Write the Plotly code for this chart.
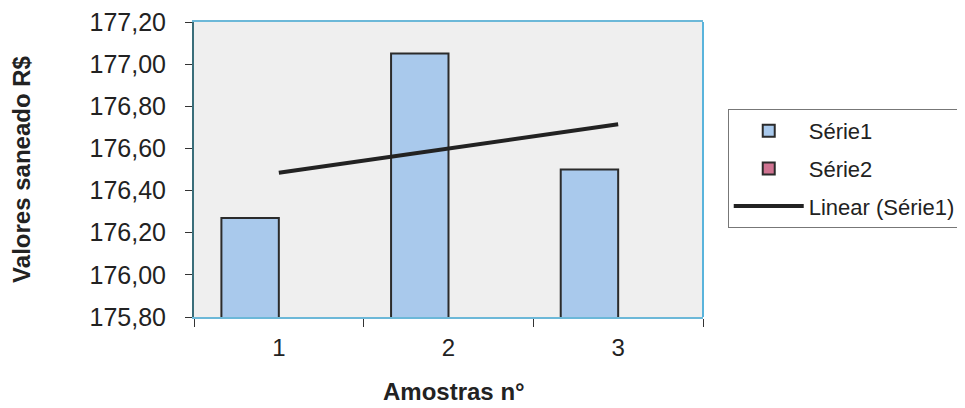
import plotly.graph_objects as go

categories = ["1", "2", "3"]
serie1 = [176.27, 177.05, 176.50]
serie2 = [None, None, None]
trend_linear = [176.485, 176.60, 176.715]
y_ticks = [175.8, 176.0, 176.2, 176.4, 176.6, 176.8, 177.0, 177.2]

font_family = "Liberation Sans, Arial, sans-serif"
text_col = "#222222"

fig = go.Figure()
fig.add_trace(go.Bar(
    x=categories, y=serie1, name="Série1", legendgroup="a",
    marker=dict(color="#a9c9ec", line=dict(color="#2b2b2b", width=2)),
))
fig.add_trace(go.Bar(
    x=categories, y=serie2, name="Série2", legendgroup="b",
    marker=dict(color="#cf7391", line=dict(color="#2b2b2b", width=2)),
))
fig.add_trace(go.Scatter(
    x=categories, y=trend_linear, name="Linear (Série1)", legendgroup="c",
    mode="lines", line=dict(color="#222222", width=4),
))

fig.update_layout(
    width=965, height=400,
    margin=dict(l=186, r=265, t=14, b=91),
    paper_bgcolor="white",
    plot_bgcolor="#efefef",
    separators=",.",
    barmode="group",
    bargap=0.323,
    bargroupgap=0,
    font=dict(family=font_family, color=text_col, size=22),
    legend=dict(
        x=1.0486, xanchor="left", y=0.705, yanchor="top",
        bordercolor="#777777", borderwidth=1, bgcolor="white",
        font=dict(size=22, family=font_family, color=text_col),
        traceorder="grouped", tracegroupgap=6,
        itemwidth=70,
    ),
    xaxis=dict(
        type="category", tickson="boundaries", automargin=False,
        ticks="outside", ticklen=8, tickcolor="#333333", tickwidth=1,
        showline=True, linecolor="#6cb8d8", linewidth=2, mirror=True,
        showgrid=False, zeroline=False, ticklabelstandoff=8,
        tickfont=dict(size=24, family=font_family, color=text_col),
    ),
    yaxis=dict(
        range=[175.8, 177.2], tickvals=y_ticks, tickformat=".2f", automargin=False,
        ticks="outside", ticklen=7, tickcolor="#333333", tickwidth=1,
        showline=True, linecolor="#3a6e7a", linewidth=2,
        showgrid=False, zeroline=False, ticklabelstandoff=14,
        ticklabeloverflow="allow",
        tickfont=dict(size=25, family=font_family, color=text_col),
        title=dict(text="<b>Valores saneado R$</b>", standoff=54,
                   font=dict(size=24, family=font_family, color=text_col)),
    ),
    annotations=[dict(text="<b>Amostras n°</b>", xref="paper", yref="paper",
                      x=0.51, y=-0.252, xanchor="center", yanchor="middle",
                      showarrow=False,
                      font=dict(size=24, family=font_family, color=text_col))],
    shapes=[dict(type="line", xref="paper", yref="paper", x0=1, x1=1, y0=0, y1=1,
                 line=dict(color="#5ab4dc", width=2))],
)

fig.write_html("out.html")
